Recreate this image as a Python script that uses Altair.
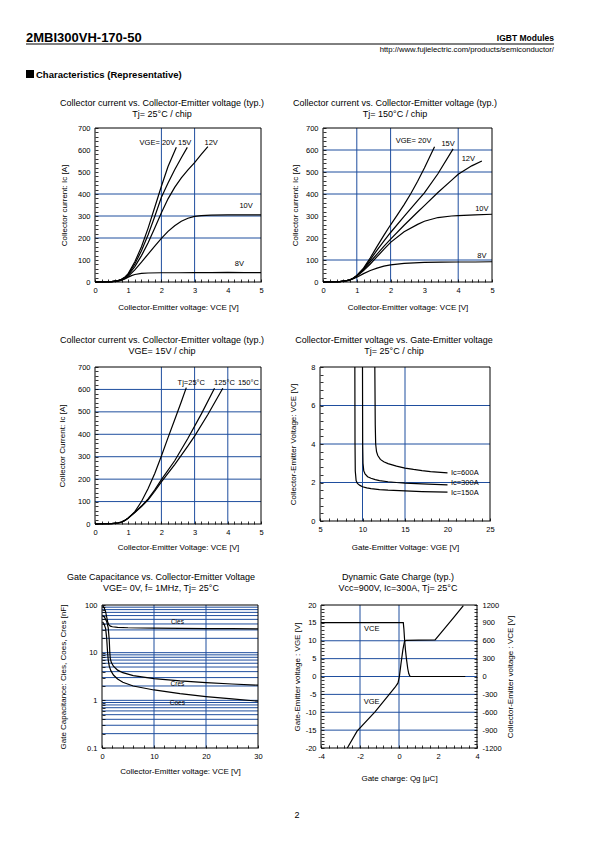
import altair as alt
import pandas as pd

FONT = "Liberation Sans"
GRID = "#1f4e9e"
INK = "black"
W, H = 579, 826  # drawing area inside the 8px page margin

# ---------------- data ----------------
# Panel 1: Ic vs VCE, Tj = 25 C
p1_vge20_x = [0, 0.5, 0.7, 0.8, 0.9, 1.0, 1.2, 1.4, 1.6, 1.8, 2.0, 2.2, 2.45]
p1_vge20_y = [0, 2, 6, 12, 22, 38, 92, 160, 245, 340, 435, 525, 612]
p1_vge15_x = [0, 0.5, 0.7, 0.8, 0.9, 1.0, 1.2, 1.4, 1.6, 1.8, 2.0, 2.2, 2.4, 2.6, 2.78]
p1_vge15_y = [0, 2, 6, 12, 21, 35, 82, 142, 215, 298, 385, 450, 510, 565, 612]
p1_vge12_x = [0, 0.5, 0.7, 0.8, 0.9, 1.0, 1.2, 1.4, 1.6, 1.8, 2.0, 2.2, 2.4, 2.6, 2.8, 3.0, 3.2, 3.4]
p1_vge12_y = [0, 2, 6, 11, 19, 31, 70, 120, 178, 245, 315, 378, 430, 473, 510, 543, 580, 615]
p1_vge10_x = [0, 0.5, 0.7, 0.8, 0.9, 1.0, 1.2, 1.4, 1.6, 1.8, 2.0, 2.2, 2.4, 2.6, 2.8, 3.0, 3.2, 3.5, 4.0, 4.5, 5.0]
p1_vge10_y = [0, 2, 5, 9, 16, 26, 55, 90, 127, 163, 198, 230, 256, 276, 290, 298, 302, 304, 305, 305, 305]
p1_vge8_x = [0, 0.5, 0.7, 0.8, 0.9, 1.0, 1.1, 1.2, 1.4, 1.6, 2.0, 2.5, 3.0, 3.5, 4.0, 4.5, 5.0]
p1_vge8_y = [0, 1, 4, 8, 14, 22, 29, 34, 39, 41, 42, 42, 43, 43, 44, 43, 43]
p1_grid_x = [2, 3]
p1_grid_y = [200, 300, 400]
p1_lab_t = ["VGE= 20V", "15V", "12V", "10V", "8V"]
p1_lab_x = [1.88, 2.7, 3.5, 4.55, 4.35]
p1_lab_y = [632, 632, 632, 344, 83]

# Panel 2: Ic vs VCE, Tj = 150 C
p2_vge20_x = [0, 0.5, 0.7, 0.8, 0.9, 1.0, 1.2, 1.4, 1.6, 1.8, 2.0, 2.2, 2.4, 2.6, 2.8, 3.0, 3.3]
p2_vge20_y = [0, 2, 6, 10, 18, 30, 63, 110, 162, 212, 260, 305, 352, 402, 458, 518, 615]
p2_vge15_x = [0, 0.5, 0.7, 0.8, 0.9, 1.0, 1.2, 1.4, 1.6, 1.8, 2.0, 2.4, 2.8, 3.0, 3.4, 3.85]
p2_vge15_y = [0, 2, 6, 10, 18, 29, 60, 102, 145, 186, 225, 298, 370, 405, 492, 605]
p2_vge12_x = [0, 0.5, 0.7, 0.8, 0.9, 1.0, 1.2, 1.4, 1.6, 1.8, 2.0, 2.4, 2.8, 3.0, 3.4, 3.8, 4.0, 4.4, 4.7]
p2_vge12_y = [0, 2, 6, 10, 17, 28, 57, 92, 127, 162, 195, 258, 318, 347, 407, 462, 490, 528, 550]
p2_vge10_x = [0, 0.5, 0.7, 0.8, 0.9, 1.0, 1.2, 1.4, 1.6, 1.8, 2.0, 2.4, 2.8, 3.0, 3.4, 3.8, 4.0, 4.5, 5.0]
p2_vge10_y = [0, 2, 6, 10, 16, 26, 52, 82, 115, 148, 180, 228, 262, 276, 293, 300, 302, 305, 308]
p2_vge8_x = [0, 0.5, 0.7, 0.8, 0.9, 1.0, 1.2, 1.4, 1.6, 1.8, 2.0, 2.4, 3.0, 3.5, 4.0, 4.5, 5.0]
p2_vge8_y = [0, 2, 5, 9, 15, 22, 38, 52, 63, 72, 78, 85, 89, 90, 91, 91, 92]
p2_grid_x = [1, 2, 4]
p2_grid_y = [100, 400, 500, 600]
p2_lab_t = ["VGE= 20V", "15V", "12V", "10V", "8V"]
p2_lab_x = [2.68, 3.7, 4.3, 4.7, 4.7]
p2_lab_y = [640, 628, 560, 332, 117]

# Panel 3: Ic vs VCE, VGE = 15 V
p3_t25_x = [0, 0.5, 0.7, 0.8, 0.9, 1.0, 1.2, 1.4, 1.6, 1.8, 2.0, 2.2, 2.4, 2.6, 2.75]
p3_t25_y = [0, 2, 5, 9, 16, 26, 55, 100, 158, 225, 303, 385, 465, 545, 608]
p3_t125_x = [0, 0.5, 0.7, 0.8, 0.9, 1.0, 1.2, 1.4, 1.6, 1.8, 2.0, 2.4, 2.8, 3.2, 3.6]
p3_t125_y = [0, 2, 5, 9, 16, 27, 52, 80, 112, 152, 198, 282, 382, 490, 605]
p3_t150_x = [0, 0.5, 0.7, 0.8, 0.9, 1.0, 1.2, 1.4, 1.6, 1.8, 2.0, 2.4, 2.8, 3.0, 3.4, 3.85]
p3_t150_y = [0, 2, 5, 9, 16, 27, 51, 78, 108, 146, 188, 265, 348, 392, 488, 605]
p3_grid_x = [2, 3, 4]
p3_grid_y = [100, 200, 300, 400, 500, 600]
p3_lab_t = ["Tj=25°C", "125°C", "150°C"]
p3_lab_x = [2.9, 3.9, 4.62]
p3_lab_y = [627, 627, 627]

# Panel 4: VCE vs VGE, Tj = 25 C
p4_ic150_x = [9.1, 9.12, 9.15, 9.25, 9.4, 9.7, 10.0, 10.5, 11, 12, 13, 15, 17, 20]
p4_ic150_y = [8, 4, 2.6, 2.1, 1.95, 1.85, 1.78, 1.72, 1.68, 1.63, 1.6, 1.56, 1.53, 1.5]
p4_ic300_x = [10.0, 10.02, 10.06, 10.15, 10.3, 10.6, 11, 11.5, 12, 13, 14, 15, 17, 20]
p4_ic300_y = [8, 4, 3.0, 2.6, 2.45, 2.3, 2.22, 2.15, 2.1, 2.04, 2.0, 1.97, 1.93, 1.88]
p4_ic600_x = [11.45, 11.5, 11.55, 11.65, 11.8, 12.1, 12.5, 13, 14, 15, 16, 17, 18, 20]
p4_ic600_y = [8, 5, 4.0, 3.6, 3.4, 3.2, 3.08, 2.98, 2.85, 2.75, 2.68, 2.62, 2.57, 2.5]
p4_grid_x = [10, 15]
p4_grid_y = [2, 4, 6]
p4_lab_t = ["Ic=600A", "Ic=300A", "Ic=150A"]
p4_lab_x = [20.4, 20.4, 20.4]
p4_lab_y = [2.47, 1.99, 1.47]

# Panel 5: capacitances vs VCE (log y)
p5_cies_x = [0.1, 0.4, 0.7, 0.9, 1.1, 1.3, 1.6, 2.0, 3, 5, 10, 15, 20, 25, 30]
p5_cies_y = [97, 88, 72, 56, 44, 38.5, 36, 35, 34, 33.3, 32.7, 32.3, 32, 31.8, 31.6]
p5_cres_x = [0.1, 0.5, 0.9, 1.2, 1.4, 1.5, 1.6, 1.8, 2.2, 3, 4, 6, 10, 15, 20, 25, 30]
p5_cres_y = [60, 55, 45, 33, 18, 10, 7.5, 6.2, 5.2, 4.3, 3.8, 3.3, 2.85, 2.55, 2.35, 2.2, 2.08]
p5_coes_x = [0.1, 0.4, 0.7, 0.9, 1.05, 1.2, 1.4, 1.7, 2.2, 3, 4, 6, 10, 15, 20, 25, 30]
p5_coes_y = [44, 40, 32, 20, 11, 7, 5.2, 4.2, 3.4, 2.8, 2.4, 2.0, 1.65, 1.38, 1.2, 1.07, 0.96]
p5_grid_x = [10, 20]
p5_grid_y = [0.2, 0.3, 0.4, 0.5, 0.6, 0.7, 0.8, 0.9, 1, 2, 3, 4, 5, 6, 7, 8, 9,
             10, 20, 30, 40, 50, 60, 70, 80, 90]
p5_lab_t = ["Cies", "Cres", "Coes"]
p5_lab_x = [14.5, 14.5, 14.5]
p5_lab_y = [44, 2.2, 0.89]

# Panel 6: dynamic gate charge
p6_vge_x = [-2.65, -2.15, -1.22, -0.5, -0.2, -0.05, 0.02, 0.1, 0.2, 0.28, 0.35, 1.0, 1.85, 2.3, 2.8, 3.3]
p6_vge_y = [-20, -15.3, -9.8, -5, -3, -1.8, 0, 3.5, 7.5, 9.8, 10.1, 10.15, 10.25, 13.2, 16.5, 19.8]
p6_vce_x = [-4, 0.22, 0.25, 0.29, 0.33, 0.38, 0.45, 0.5, 0.55, 0.6, 3.4]
p6_vce_y = [905, 905, 800, 600, 450, 300, 130, 50, 10, 0, 0]
p6_grid_x = [-2, 0]
p6_grid_y = [-15, -10, -5, 0, 5, 10]
p6_lab_t = ["VCE", "VGE"]
p6_lab_x = [-1.4, -1.4]
p6_lab_y = [13.3, -7.0]

# tick positions (major + minor)
t_x05 = [round(i * 0.2, 2) for i in range(26)]
t_y700 = [i * 20 for i in range(36)]
t_x525 = [5 + i for i in range(21)]
t_y8 = [round(i * 0.4, 2) for i in range(21)]
t_x30 = [i * 2 for i in range(16)]
t_ylog = [0.1, 0.2, 0.3, 0.4, 0.5, 0.6, 0.7, 0.8, 0.9, 1, 2, 3, 4, 5, 6, 7, 8, 9,
          10, 20, 30, 40, 50, 60, 70, 80, 90, 100]
t_x44 = [round(-4 + i * 0.4, 2) for i in range(21)]
t_y20 = [-20 + i for i in range(41)]
t_y1200 = [-1200 + i * 60 for i in range(41)]

one = pd.DataFrame({"a": [0]})


def long_df(series):
    rows = []
    for name, xs, ys in series:
        for i, (a, b) in enumerate(zip(xs, ys)):
            rows.append({"s": name, "i": i, "x": a, "y": b})
    return pd.DataFrame(rows)


def axis(values, major, title, orient, offset, label_pad, title_pad, title_angle=None):
    kw = dict(values=values,
              labelExpr=f"({major}) ? '' + datum.value : ''",
              title=title, orient=orient, offset=offset, tickSize=3, tickColor=INK,
              tickWidth=0.8, domain=False, grid=False, labelOverlap=False,
              labelFlush=False, labelFont=FONT, labelFontSize=7.5, labelColor=INK,
              labelPadding=label_pad, titleFont=FONT, titleFontSize=8,
              titleFontWeight="normal", titleColor=INK, titlePadding=title_pad,
              zindex=1)
    if title_angle is not None:
        kw["titleAngle"] = title_angle
    return alt.Axis(**kw)


def text_at(txt, x, y, size=9, weight="normal", align="center", baseline="middle"):
    return alt.Chart(one).mark_text(text=txt, font=FONT, fontSize=size, fontWeight=weight,
                                    align=align, baseline=baseline, color=INK).encode(
        x=alt.value(x), y=alt.value(y))


def panel(box, xdom, ydom, series, gx, gy, labs, xax, yax, title, title_x, title_y,
          ylog=False, lab_align="center", lab_size=7.5):
    L, R, T, B = box
    xs = alt.Scale(domain=xdom, range=[L, R], nice=False, zero=False)
    if ylog:
        ys = alt.Scale(type="log", domain=ydom, range=[B, T], nice=False)
    else:
        ys = alt.Scale(domain=ydom, range=[B, T], nice=False, zero=False)
    gx_c = alt.Chart(pd.DataFrame({"x": gx})).mark_rule(color=GRID, strokeWidth=1).encode(
        x=alt.X("x:Q", scale=xs, axis=xax), y=alt.value(T), y2=alt.value(B))
    gy_c = alt.Chart(pd.DataFrame({"y": gy})).mark_rule(color=GRID, strokeWidth=1).encode(
        y=alt.Y("y:Q", scale=ys, axis=yax), x=alt.value(L), x2=alt.value(R))
    ln = alt.Chart(long_df(series)).mark_line(color=INK, strokeWidth=1.2).encode(
        x=alt.X("x:Q", scale=xs, axis=None),
        y=alt.Y("y:Q", scale=ys, axis=None),
        detail="s:N", order="i:Q")
    t, lx, ly = labs
    lb = alt.Chart(pd.DataFrame({"t": t, "x": lx, "y": ly})).mark_text(
        font=FONT, fontSize=lab_size, color=INK, align=lab_align, baseline="middle").encode(
        x=alt.X("x:Q", scale=xs, axis=None),
        y=alt.Y("y:Q", scale=ys, axis=None),
        text="t:N")
    frame = alt.Chart(one).mark_rect(fillOpacity=0, stroke=INK, strokeWidth=1).encode(
        x=alt.value(L), x2=alt.value(R), y=alt.value(T), y2=alt.value(B))
    tt = [text_at(title[0], title_x, title_y), text_at(title[1], title_x, title_y + 11)]
    return [gx_c, gy_c, ln, lb, frame] + tt, xs, ys


def left(L):
    return -(L + 3)


def bottom(B):
    return B - 3 - H


MAJ_X1 = "abs(datum.value - round(datum.value)) < 0.001"
MAJ_Y100 = "datum.value % 100 == 0"

# panel boxes (left, right, top, bottom) in pixels of the drawing area
B1 = (87, 253, 120, 274)
B2 = (315, 484, 120, 274)
B3 = (87, 253, 359, 516)
B4 = (312, 482, 359, 513)
B5 = (94, 250, 597, 740)
B6 = (313, 469, 597, 740)

l1, _, _ = panel(B1, [0, 5], [0, 700],
                 [("20", p1_vge20_x, p1_vge20_y), ("15", p1_vge15_x, p1_vge15_y),
                  ("12", p1_vge12_x, p1_vge12_y), ("10", p1_vge10_x, p1_vge10_y),
                  ("8", p1_vge8_x, p1_vge8_y)],
                 p1_grid_x, p1_grid_y, (p1_lab_t, p1_lab_x, p1_lab_y),
                 axis(t_x05, MAJ_X1, "Collector-Emitter voltage: VCE [V]", "bottom", bottom(B1[3]), 4, 10),
                 axis(t_y700, MAJ_Y100, "Collector current: Ic [A]", "left", left(B1[0]), 5, 9),
                 ["Collector current vs. Collector-Emitter voltage (typ.)", "Tj= 25°C / chip"],
                 154, 95)

l2, _, _ = panel(B2, [0, 5], [0, 700],
                 [("20", p2_vge20_x, p2_vge20_y), ("15", p2_vge15_x, p2_vge15_y),
                  ("12", p2_vge12_x, p2_vge12_y), ("10", p2_vge10_x, p2_vge10_y),
                  ("8", p2_vge8_x, p2_vge8_y)],
                 p2_grid_x, p2_grid_y, (p2_lab_t, p2_lab_x, p2_lab_y),
                 axis(t_x05, MAJ_X1, "Collector-Emitter voltage: VCE [V]", "bottom", bottom(B2[3]), 4, 10),
                 axis(t_y700, MAJ_Y100, "Collector current: Ic [A]", "left", left(B2[0]), 5, 6),
                 ["Collector current vs. Collector-Emitter voltage (typ.)", "Tj= 150°C / chip"],
                 387, 95)

l3, _, _ = panel(B3, [0, 5], [0, 700],
                 [("25", p3_t25_x, p3_t25_y), ("125", p3_t125_x, p3_t125_y),
                  ("150", p3_t150_x, p3_t150_y)],
                 p3_grid_x, p3_grid_y, (p3_lab_t, p3_lab_x, p3_lab_y),
                 axis(t_x05, MAJ_X1, "Collector-Emitter Voltage: VCE [V]", "bottom", bottom(B3[3]), 4, 8),
                 axis(t_y700, MAJ_Y100, "Collector Current: Ic [A]", "left", left(B3[0]), 5, 11),
                 ["Collector current vs. Collector-Emitter voltage (typ.)", "VGE= 15V / chip"],
                 154, 332)

l4, _, _ = panel(B4, [5, 25], [0, 8],
                 [("150", p4_ic150_x, p4_ic150_y), ("300", p4_ic300_x, p4_ic300_y),
                  ("600", p4_ic600_x, p4_ic600_y)],
                 p4_grid_x, p4_grid_y, (p4_lab_t, p4_lab_x, p4_lab_y),
                 axis(t_x525, "datum.value % 5 == 0", "Gate-Emitter Voltage: VGE [V]", "bottom", bottom(B4[3]), 4, 11),
                 axis(t_y8, "abs(datum.value % 2) < 0.001", "Collector-Emitter Voltage: VCE [V]", "left", left(B4[0]), 5, 13),
                 ["Collector-Emitter voltage  vs. Gate-Emitter voltage", "Tj= 25°C / chip"],
                 386, 332, lab_align="left")

l5, _, _ = panel(B5, [0, 30], [0.1, 100],
                 [("cies", p5_cies_x, p5_cies_y), ("cres", p5_cres_x, p5_cres_y),
                  ("coes", p5_coes_x, p5_coes_y)],
                 p5_grid_x, p5_grid_y, (p5_lab_t, p5_lab_x, p5_lab_y),
                 axis(t_x30, "datum.value % 10 == 0", "Collector-Emitter voltage: VCE [V]", "bottom", bottom(B5[3]), 4, 8),
                 axis(t_ylog, "datum.value == 0.1 || datum.value == 1 || datum.value == 10 || datum.value == 100",
                      "Gate Capacitance: Cies, Coes, Cres [nF]", "left", left(B5[0]), 5, 17),
                 ["Gate Capacitance vs. Collector-Emitter Voltage", "VGE= 0V, f= 1MHz, Tj= 25°C"],
                 153, 569, ylog=True, lab_size=6.5)

l6, sx6, _ = panel(B6, [-4, 4], [-20, 20],
                   [("vge", p6_vge_x, p6_vge_y)],
                   p6_grid_x, p6_grid_y, (p6_lab_t, p6_lab_x, p6_lab_y),
                   axis(t_x44, "abs(datum.value % 2) < 0.001", "Gate charge: Qg [μC]", "bottom", bottom(B6[3]), 4, 15),
                   axis(t_y20, "datum.value % 5 == 0", "Gate-Emitter voltage :  VGE [V]", "left", left(B6[0]), 5, 4),
                   ["Dynamic Gate Charge (typ.)", "Vcc=900V, Ic=300A, Tj= 25°C"],
                   390, 569)
vce = alt.Chart(long_df([("vce", p6_vce_x, p6_vce_y)])).mark_line(
    color=INK, strokeWidth=1.2).encode(
    x=alt.X("x:Q", scale=sx6, axis=None),
    y=alt.Y("y:Q", scale=alt.Scale(domain=[-1200, 1200], range=[B6[3], B6[2]],
                                   nice=False, zero=False),
            axis=axis(t_y1200, "datum.value % 300 == 0",
                      "Collector-Emitter voltage :  VCE [V]", "right",
                      B6[1] - 3 - W, 5, 13, title_angle=270)),
    detail="s:N", order="i:Q")

# ---- page furniture (fixed pixel positions)
page = [
    text_at("2MBI300VH-170-50", 18, 34, size=13, weight="bold", align="left",
            baseline="alphabetic"),
    alt.Chart(one).mark_rule(color=INK, strokeWidth=1).encode(
        x=alt.value(18), x2=alt.value(546), y=alt.value(36)),
    text_at("IGBT Modules", 546, 33, size=8.5, weight="bold", align="right",
            baseline="alphabetic"),
    text_at("http://www.fujielectric.com/products/semiconductor/", 546, 44, size=7.7,
            align="right", baseline="alphabetic"),
    alt.Chart(one).mark_rect(color=INK).encode(
        x=alt.value(18), x2=alt.value(26), y=alt.value(62), y2=alt.value(70)),
    text_at("Characteristics (Representative)", 28, 70, size=9.5, weight="bold",
            align="left", baseline="alphabetic"),
    text_at("2", 289, 807, size=9),
]

chart = alt.layer(*page, *l1, *l2, *l3, *l4, *l5, *l6, vce).resolve_scale(
    x="independent", y="independent").properties(
    width=W, height=H, padding=0, background="white").configure_view(stroke=None)

chart.save("out.html", embed_options={"renderer": "svg", "actions": False})
